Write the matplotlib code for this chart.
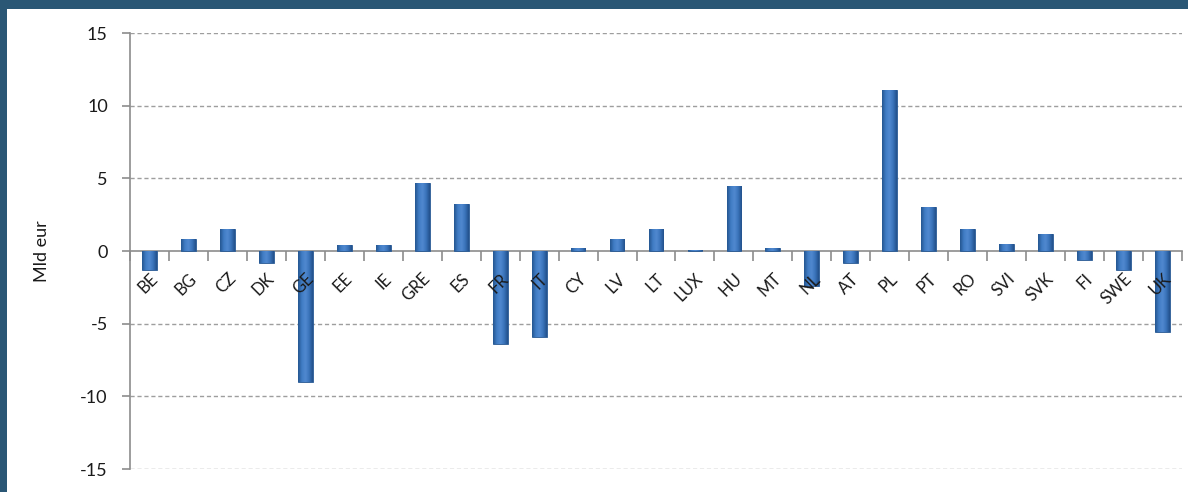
import matplotlib
matplotlib.use("Agg")
import matplotlib.pyplot as plt
import numpy as np
from matplotlib.patches import Rectangle
from matplotlib.colors import LinearSegmentedColormap

countries = ["BE", "BG", "CZ", "DK", "GE", "EE", "IE", "GRE", "ES", "FR", "IT", "CY", "LV", "LT",
             "LUX", "HU", "MT", "NL", "AT", "PL", "PT", "RO", "SVI", "SVK", "FI", "SWE", "UK"]
values = [-1.3, 0.8, 1.5, -0.8, -9.0, 0.4, 0.4, 4.7, 3.2, -6.4, -5.9, 0.2, 0.8, 1.5,
          0.1, 4.5, 0.2, -2.4, -0.8, 11.1, 3.0, 1.5, 0.5, 1.2, -0.6, -1.3, -5.6]
yticks = [-15, -10, -5, 0, 5, 10, 15]
ylabel = "Mld eur"

plt.rcParams['font.family'] = ['Lato', 'DejaVu Sans']

fig = plt.figure(figsize=(11.88, 4.92), dpi=100)
fig.patch.set_facecolor('#2a5775')
fig.patches.append(Rectangle((7/1188, 0), 1 - 7/1188, 1 - 9/492, transform=fig.transFigure,
                             facecolor='white', edgecolor='none', zorder=-10))

ax = fig.add_axes([130/1188, 1 - 469/492, 1052/1188, 436/492])
ax.set_facecolor('none')
ax.set_zorder(1)

x = np.arange(len(countries))
bars = ax.bar(x, values, width=0.38, color='#3470b6', edgecolor='#2a5a94', linewidth=0.6, zorder=3)

cmap = LinearSegmentedColormap.from_list('g', ['#24558f', '#3f7cc4', '#5189d0', '#3a74bb', '#22508a'])
grad = np.linspace(0, 1, 64).reshape(1, -1)
for b in bars:
    x0, y0 = b.get_x(), b.get_y()
    w, h = b.get_width(), b.get_height()
    ext = (x0, x0 + w, min(y0, y0 + h), max(y0, y0 + h))
    im = ax.imshow(grad, cmap=cmap, aspect='auto', extent=ext, zorder=3.5, interpolation='bicubic')
    im.set_clip_path(b)

ax.set_xlim(-0.5, len(countries) - 0.5)
ax.set_ylim(-15, 15)
ax.set_yticks(yticks)
ax.set_yticklabels([str(t) for t in yticks], fontsize=13, color='#1a1a1a')
for t in yticks:
    if t != 0:
        ax.axhline(t, color='#9e9e9e', linestyle=(0, (3, 2)), linewidth=1.0, zorder=1)

for s in ['top', 'right']:
    ax.spines[s].set_visible(False)
ax.spines['left'].set_color('#8c8c8c')
ax.spines['left'].set_linewidth(1.2)
ax.spines['bottom'].set_position(('data', 0))
ax.spines['bottom'].set_color('#8c8c8c')
ax.spines['bottom'].set_linewidth(1.2)
ax.spines['bottom'].set_zorder(2)

ax.tick_params(axis='y', direction='out', length=6, color='#8c8c8c', width=1.2, pad=10)
ax.set_xticks(np.arange(len(countries) + 1) - 0.5)
ax.set_xticklabels([])
ax.tick_params(axis='x', which='major', direction='out', length=7, color='#8c8c8c', width=1.2)
ax.set_xticks(x, minor=True)
ax.tick_params(axis='x', which='minor', length=0, pad=14, labelrotation=45,
               labelsize=12, labelcolor='#1a1a1a')
ax.set_xticklabels(countries, minor=True)
for lbl in ax.get_xticklabels(minor=True):
    lbl.set_rotation(45)
    lbl.set_ha('right')
    lbl.set_va('top')
    lbl.set_rotation_mode('anchor')
ax.xaxis.set_zorder(5)

ax.set_ylabel(ylabel, fontsize=13, color='#1a1a1a', labelpad=22)

fig.savefig('out.png', dpi=100, facecolor=fig.get_facecolor())
